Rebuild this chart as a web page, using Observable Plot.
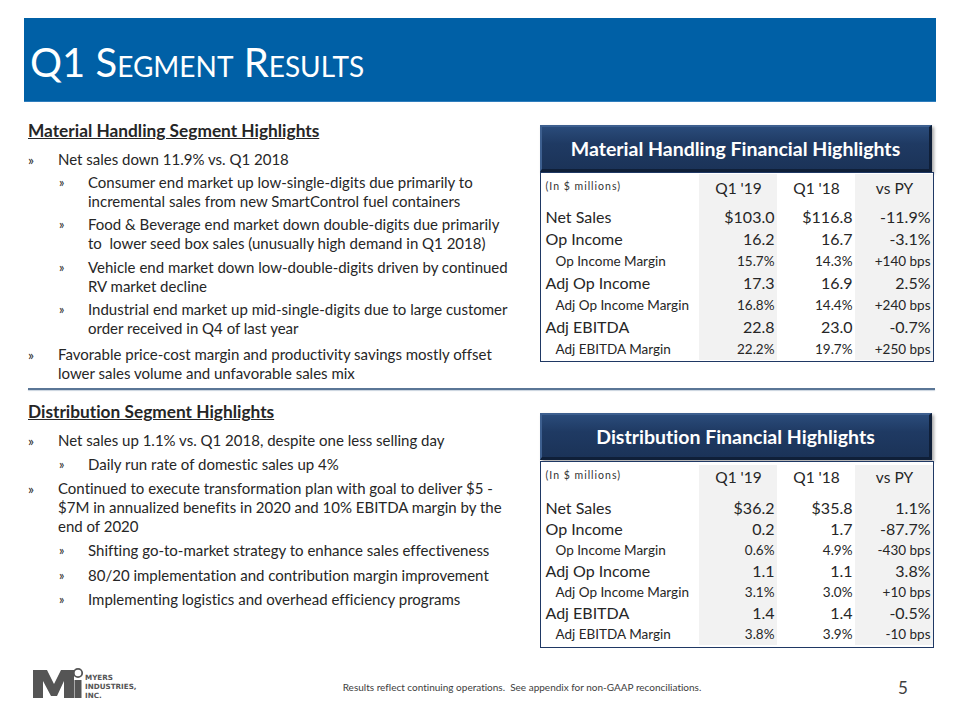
<!DOCTYPE html>
<html>
<head>
<meta charset="utf-8">
<script src="https://cdn.jsdelivr.net/npm/d3@7"></script>
<script src="https://cdn.jsdelivr.net/npm/@observablehq/plot@0.6"></script>
<style>
  html, body { margin: 0; padding: 0; background: #fff; }
  #slide { position: relative; width: 960px; height: 720px; overflow: hidden; font-family: Lato, "Open Sans", sans-serif; color: #262626; font-variant-ligatures: none; }
  #slide svg text { font-variant-ligatures: none; }
  .bar { position: absolute; left: 24px; top: 18px; width: 912px; height: 83px; background: #0060A6; border-bottom: 1px solid #2f7dbd; }
  .title { position: absolute; left: 30px; top: 37px; font-size: 40px; line-height: 50px; color: #fff; font-variant: small-caps; font-variant-ligatures: none; }
  .block { position: absolute; left: 28px; width: 490px; font-size: 15px; line-height: 19px; }
  .block h3 { margin: 0; font-size: 17.3px; font-weight: 700; text-decoration: underline; line-height: 20px; }
  .item { position: relative; }
  .item .mk { position: absolute; top: 0; }
  .sep { position: absolute; left: 28px; top: 388px; width: 907px; height: 2px; background: #5a7696; box-shadow: 0 1px 1px #c9d3de; }
  .hdr { position: absolute; left: 540px; width: 392px; height: 47px; box-sizing: border-box;
         background: linear-gradient(180deg, #2a4b7a 0%, #1f3a63 40%, #1b3358 100%);
         border-top: 2px solid #3d5f8f; border-left: 2px solid #3d5f8f; border-right: 3px solid #0f1f38; border-bottom: 3px solid #0f1f38;
         box-shadow: 2px 2px 3px rgba(0,0,0,0.35);
         color: #fff; font-weight: 700; font-size: 19.5px; line-height: 44px; text-align: center; }
  .tbl { position: absolute; left: 540px; border: 1px solid #1f3864; line-height: 0; }
  .foot { position: absolute; top: 681px; left: 300px; width: 444px; text-align: center; font-size: 10px; color: #404040; }
  .page { position: absolute; top: 677px; left: 898px; font-size: 17px; color: #404040; }
  .logo { position: absolute; left: 32px; top: 667px; }
</style>
</head>
<body>
<div id="slide">
  <div class="bar"></div>
  <div class="title">Q1 Segment Results</div>
  <div class="block" id="mhText" style="top:121px"></div>
  <div class="sep"></div>
  <div class="block" id="distText" style="top:402px"></div>
  <div class="hdr" style="top:125px">Material Handling Financial Highlights</div>
  <div class="tbl" id="mhTable" style="top:172px"></div>
  <div class="hdr" style="top:413px">Distribution Financial Highlights</div>
  <div class="tbl" id="distTable" style="top:461px"></div>
  <div class="logo">
    <svg width="115" height="33" viewBox="0 0 115 33">
      <path d="M1 3 H15 L22 17 L29 3 H42 V31 H32 V14 L25 29 H19 L11 14 V31 H1 Z" fill="#555"/>
      <circle cx="46" cy="6" r="4.2" fill="none" stroke="#555" stroke-width="1.8"/>
      <rect x="42.5" y="13" width="7" height="18" fill="#555"/>
      <text x="53" y="13" font-family="DejaVu Sans" font-weight="700" font-size="7.2" fill="#555">MYERS</text>
      <text x="53" y="22" font-family="DejaVu Sans" font-weight="700" font-size="7.2" fill="#555">INDUSTRIES,</text>
      <text x="53" y="31" font-family="DejaVu Sans" font-weight="700" font-size="7.2" fill="#555">INC.</text>
    </svg>
  </div>
  <div class="foot">Results reflect continuing operations.&nbsp; See appendix for non-GAAP reconciliations.</div>
  <div class="page">5</div>
</div>
<script>
// ---------- slide text ----------
const mhHeading = "Material Handling Segment Highlights";
const mhBullets = [
  [1, ["Net sales down 11.9% vs. Q1 2018"]],
  [2, ["Consumer end market up low-single-digits due primarily to", "incremental sales from new SmartControl fuel containers"]],
  [2, ["Food & Beverage end market down double-digits due primarily", "to  lower seed box sales (unusually high demand in Q1 2018)"]],
  [2, ["Vehicle end market down low-double-digits driven by continued", "RV market decline"]],
  [2, ["Industrial end market up mid-single-digits due to large customer", "order received in Q4 of last year"]],
  [1, ["Favorable price-cost margin and productivity savings mostly offset", "lower sales volume and unfavorable sales mix"]]
];
const distHeading = "Distribution Segment Highlights";
const distBullets = [
  [1, ["Net sales up 1.1% vs. Q1 2018, despite one less selling day"]],
  [2, ["Daily run rate of domestic sales up 4%"]],
  [1, ["Continued to execute transformation plan with goal to deliver $5 -", "$7M in annualized benefits in 2020 and 10% EBITDA margin by the", "end of 2020"]],
  [2, ["Shifting go-to-market strategy to enhance sales effectiveness"]],
  [2, ["80/20 implementation and contribution margin improvement"]],
  [2, ["Implementing logistics and overhead efficiency programs"]]
];

// ---------- table data ----------
const tableColumns = ["Q1 '19", "Q1 '18", "vs PY"];
const unitsLabel = "(In $ millions)";
const rowLabels = ["Net Sales", "Op Income", "Op Income Margin", "Adj Op Income", "Adj Op Income Margin", "Adj EBITDA", "Adj EBITDA Margin"];
const rowIsMargin = [false, false, true, false, true, false, true];
const shadedColumns = ["Q1 '19", "vs PY"];

const mhQ119 = ["$103.0", "16.2", "15.7%", "17.3", "16.8%", "22.8", "22.2%"];
const mhQ118 = ["$116.8", "16.7", "14.3%", "16.9", "14.4%", "23.0", "19.7%"];
const mhVsPY = ["-11.9%", "-3.1%", "+140 bps", "2.5%", "+240 bps", "-0.7%", "+250 bps"];

const distQ119 = ["$36.2", "0.2", "0.6%", "1.1", "3.1%", "1.4", "3.8%"];
const distQ118 = ["$35.8", "1.7", "4.9%", "1.1", "3.0%", "1.4", "3.9%"];
const distVsPY = ["1.1%", "-87.7%", "-430 bps", "3.8%", "+10 bps", "-0.5%", "-10 bps"];

// ---------- render bullets ----------
function renderBlock(el, heading, bullets, gapSub, gapTop, headGap) {
  let html = `<h3>${heading}</h3>`;
  bullets.forEach(([lvl, lines], i) => {
    const mt = i === 0 ? headGap : (lvl === 1 ? gapTop : gapSub);
    const left = lvl === 1 ? 30 : 60;
    const mk = lvl === 1 ? 0 : 31;
    const fs = lvl === 1 ? 14 : 12.5;
    html += `<div class="item" style="margin-top:${mt}px;padding-left:${left}px">` +
      `<span class="mk" style="left:${mk}px;font-size:${fs}px">»</span>` +
      lines.map(l => l.replace(/&/g, "&amp;").replace(/  /g, " &nbsp;")).join("<br>") + `</div>`;
  });
  el.innerHTML = html;
}
renderBlock(document.getElementById("mhText"), mhHeading, mhBullets, 4.2, 7.5, 9);
renderBlock(document.getElementById("distText"), distHeading, distBullets, 5.2, 5, 9);

// ---------- render tables ----------
function renderTable(el, q119, q118, vspy, height, marginTop) {
  const cells = [];
  rowLabels.forEach((row, i) => {
    [q119, q118, vspy].forEach((vals, j) => {
      cells.push({row, col: tableColumns[j], value: vals[i], margin: rowIsMargin[i]});
    });
  });
  const rows = rowLabels.map((label, i) => ({label, margin: rowIsMargin[i]}));
  const shaded = cells.filter(d => shadedColumns.includes(d.col));
  const shadedTop = shaded.filter(d => d.row === rowLabels[0]);
  const headDy = -(marginTop - 9);
  const plot = Plot.plot({
    width: 392,
    height,
    marginLeft: 157,
    marginRight: 0,
    marginTop,
    marginBottom: 0,
    x: {domain: tableColumns, padding: 0, axis: null},
    y: {domain: rowLabels, padding: 0, axis: null},
    style: {fontFamily: "Lato, 'Open Sans', sans-serif", background: "#fff", color: "#262626", overflow: "visible"},
    marks: [
      Plot.cell(shaded, {x: "col", y: "row", fill: "#F2F2F2"}),
      Plot.cell(shadedTop, {x: "col", y: "row", fill: "#F2F2F2", insetTop: -marginTop}),
      Plot.text([unitsLabel], {text: d => d, frameAnchor: "top-left", textAnchor: "start", dx: -153, dy: headDy, fontSize: 10.5, fill: "#333"}),
      Plot.text(tableColumns, {x: d => d, text: d => d, frameAnchor: "top", dy: headDy, fontSize: 15.5, fill: "#262626"}),
      Plot.text(rows.filter(d => !d.margin), {y: "label", text: "label", frameAnchor: "left", textAnchor: "start", dx: -153, fontSize: 16, fill: "#262626"}),
      Plot.text(rows.filter(d => d.margin), {y: "label", text: "label", frameAnchor: "left", textAnchor: "start", dx: -143, fontSize: 13.5, fill: "#262626"}),
      Plot.text(cells, {x: "col", y: "row", text: "value", textAnchor: "end", dx: 36, fontSize: d => d.margin ? 13.5 : 16, fill: "#262626"})
    ]
  });
  plot.style.display = "block";
  d3.select(plot).selectAll("text").filter(function() { return this.textContent === unitsLabel; })
    .style("letter-spacing", "1px");
  el.appendChild(plot);
}
renderTable(document.getElementById("mhTable"), mhQ119, mhQ118, mhVsPY, 188, 32);
renderTable(document.getElementById("distTable"), distQ119, distQ118, distVsPY, 185, 33);
</script>
</body>
</html>
